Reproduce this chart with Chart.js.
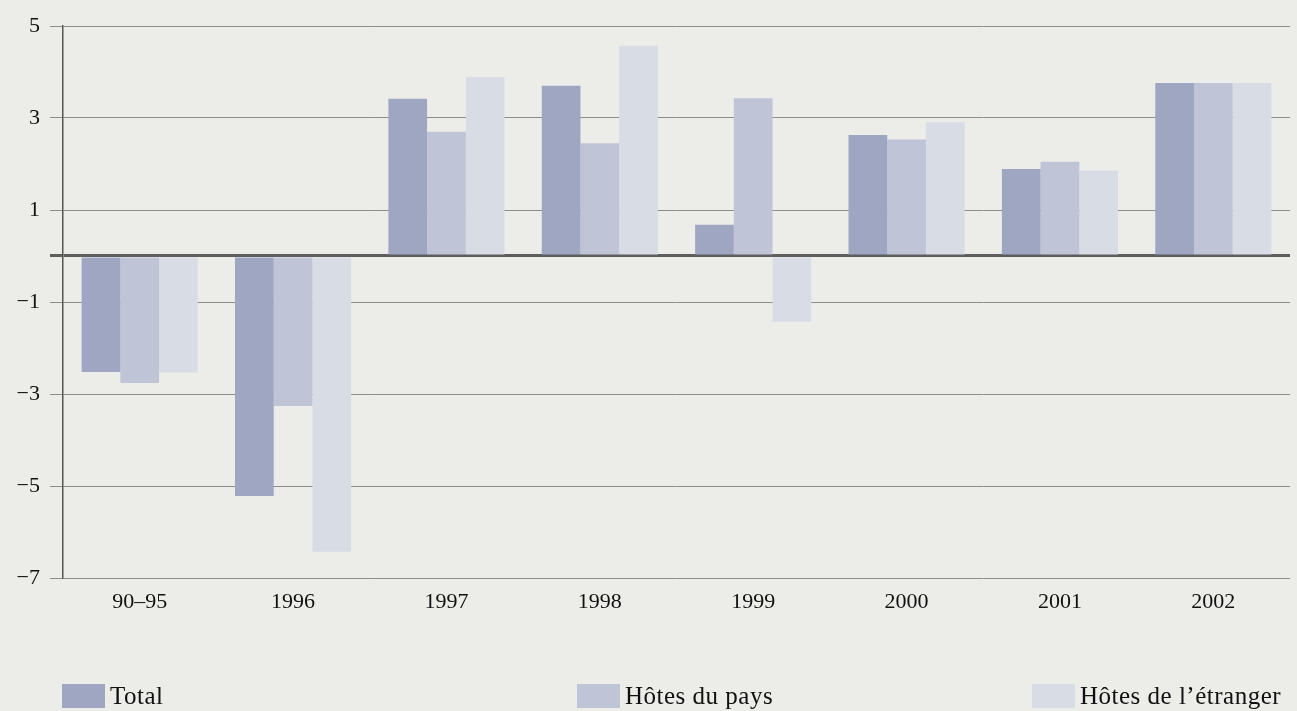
<!DOCTYPE html>
<html>
<head>
<meta charset="utf-8">
<script src="https://cdn.jsdelivr.net/npm/chart.js@4.4.0/dist/chart.umd.min.js"></script>
<style>
  html, body { margin: 0; padding: 0; background: #ecede9; }
  #wrap { position: relative; width: 1297px; height: 711px; overflow: hidden; }
  canvas { position: absolute; left: 0; top: 0; }
  .leg { position: absolute; top: 682px; display: flex; align-items: center;
         font-family: "Liberation Serif", "DejaVu Serif", serif; font-size: 25px; letter-spacing: 0.5px; color: #111; white-space: nowrap; }
  .leg .box { width: 43px; height: 24px; margin-right: 5px; }
</style>
</head>
<body>
<div id="wrap">
  <canvas id="c" width="1297" height="711"></canvas>
</div>
<script>
const categories = ["90\u201395", "1996", "1997", "1998", "1999", "2000", "2001", "2002"];
const seriesNames = ["Total", "H\u00f4tes du pays", "H\u00f4tes de l\u2019\u00e9tranger"];
const totalValues    = [-2.52, -5.22, 3.42, 3.70, 0.68, 2.63, 1.89, 3.76];
const paysValues     = [-2.76, -3.26, 2.70, 2.45, 3.43, 2.53, 2.05, 3.76];
const etrangerValues = [-2.53, -6.43, 3.89, 4.57, -1.43, 2.91, 1.86, 3.76];
const yTicks = [-7, -5, -3, -1, 1, 3, 5];
const colors = ["#9ea6c2", "#bfc4d6", "#d8dce5"];

const values = [totalValues, paysValues, etrangerValues];
const serif = "'Liberation Serif', 'DejaVu Serif', serif";

const bgPlugin = {
  id: 'bg',
  beforeDraw(chart) {
    const ctx = chart.ctx;
    ctx.save();
    ctx.fillStyle = '#ecede9';
    ctx.fillRect(0, 0, chart.width, chart.height);
    ctx.restore();
  }
};

new Chart(document.getElementById('c'), {
  type: 'bar',
  data: {
    labels: categories,
    datasets: seriesNames.map((n, i) => ({
      label: n,
      data: values[i],
      backgroundColor: colors[i],
      borderWidth: 0,
      categoryPercentage: 0.757,
      barPercentage: 1.0
    }))
  },
  options: {
    responsive: false,
    animation: false,
    layout: { padding: { left: 0, right: 7, top: 26, bottom: 0 } },
    plugins: { legend: { display: false }, tooltip: { enabled: false } },
    scales: {
      x: {
        grid: { display: false, drawTicks: false },
        border: { display: false },
        ticks: { color: '#111', font: { family: serif, size: 22 }, padding: 11 },
        afterFit(scale) { scale.height = 133; }
      },
      y: {
        min: -7, max: 5,
        afterBuildTicks(scale) {
          const t = yTicks.map(v => ({ value: v }));
          t.push({ value: 0 });
          t.sort((a, b) => a.value - b.value);
          scale.ticks = t;
        },
        afterFit(scale) { scale.width = 63; },
        grid: {
          color: ctx => ctx.tick && ctx.tick.value === 0 ? '#5e5e5e' : '#8c8c8c',
          lineWidth: ctx => ctx.tick && ctx.tick.value === 0 ? 3 : 1,
          tickLength: 13,
          tickColor: ctx => ctx.tick && ctx.tick.value === 0 ? '#5e5e5e' : '#8c8c8c'
        },
        border: { display: true, color: '#555', width: 1.5 },
        ticks: {
          color: '#111',
          font: { family: serif, size: 22 },
          padding: 10,
          callback: v => v === 0 ? '' : String(v).replace('-', '\u2212')
        }
      }
    }
  },
  plugins: [bgPlugin]
});

// HTML legend built from the series arrays
const legendLeft = [62, 577, 1032];
const wrap = document.getElementById('wrap');
seriesNames.forEach((n, i) => {
  const d = document.createElement('div');
  d.className = 'leg';
  d.style.left = legendLeft[i] + 'px';
  const b = document.createElement('div');
  b.className = 'box';
  b.style.background = colors[i];
  const s = document.createElement('span');
  s.textContent = n;
  d.appendChild(b); d.appendChild(s);
  wrap.appendChild(d);
});
</script>
</body>
</html>
